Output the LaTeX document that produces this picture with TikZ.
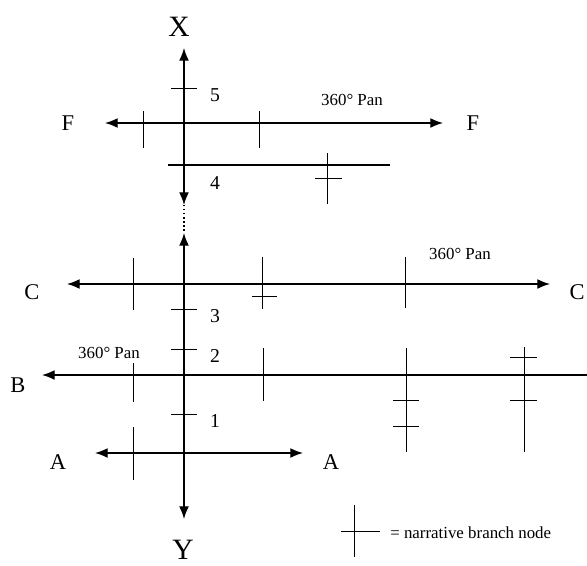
\documentclass[tikz,border=0pt]{standalone}
\usepackage{fontspec}
\setmainfont{Liberation Serif}
\usetikzlibrary{arrows.meta, positioning}

\begin{document}
\begin{tikzpicture}[x=0.025cm, y=-0.025cm, >={Latex[length=9pt,width=7pt]},
    axis/.style={line width=0.9pt},
    panline/.style={line width=0.9pt},
    branch/.style={line width=0.6pt},
    letter/.style={font=\fontsize{16}{18}\selectfont, inner sep=0pt},
    bigletter/.style={font=\fontsize{21}{24}\selectfont, inner sep=0pt},
    level/.style={font=\fontsize{14}{16}\selectfont, inner sep=0pt},
    pantext/.style={font=\fontsize{12}{14}\selectfont, inner sep=0pt}]
    \useasboundingbox (0,0) rectangle (587,566);

    % Trục dọc X--Y
    \node[bigletter] (xlab) at (179,27) {X};
    \node[bigletter] (ylab) at (183,550) {Y};
    \coordinate (xtop) at (184,48);
    \coordinate (xbot) at (184,205);
    \coordinate (ytop) at (184,233);
    \coordinate (ybot) at (184,519);
    \draw[axis, <->] (xtop) -- (xbot);
    \draw[axis, dotted] (xbot) -- (ytop);
    \draw[axis, <->] (ytop) -- (ybot);

    % Các mức trên trục
    \foreach \lv/\ty in {5/88, 3/309, 2/349, 1/414} {
        \draw[branch] (171,\ty) -- (197,\ty);
        \node[level] (lv\lv) at (215,\ty+7) {\lv};
    }
    \coordinate (fourl) at (168,165);
    \coordinate (fourr) at (390,165);
    \draw[panline] (fourl) -- (fourr);
    \node[level] (lv4) at (215,183) {4};

    % Các đường quét ngang
    \coordinate (fl) at (105,123);
    \coordinate (fr) at (443,123);
    \draw[panline, <->] (fl) -- (fr);
    \node[letter] (flab) at (68,123) {F};
    \node[letter] (frlab) at (473,123) {F};
    \node[pantext] (fpan) at (352,100) {360° Pan};

    \coordinate (cl) at (67,284);
    \coordinate (cr) at (550,284);
    \draw[panline, <->] (cl) -- (cr);
    \node[letter] (clab) at (32,292) {C};
    \node[letter] (crlab) at (577,292) {C};
    \node[pantext] (cpan) at (460,254) {360° Pan};

    \coordinate (bl) at (42,375);
    \coordinate (br) at (587,375);
    \draw[panline, <-] (bl) -- (br);
    \node[letter] (blab) at (18,385) {B};
    \node[pantext] (bpan) at (109,353) {360° Pan};

    \coordinate (al) at (95,453);
    \coordinate (ar) at (303,453);
    \draw[panline, <->] (al) -- (ar);
    \node[letter] (alab) at (58,462) {A};
    \node[letter] (arlab) at (331,462) {A};

    % Các nút rẽ nhánh
    \foreach \x/\a/\b in {143/111/148, 259/111/148, 327/153/204,
        133/258/310, 262/257/309, 405/257/308,
        133/363/402, 263/348/401, 406/348/452, 524/347/452,
        133/427/480, 354/505/557} {
        \draw[branch] (\x,\a) -- (\x,\b);
    }
    \foreach \y/\a/\b in {178/315/342, 296/252/277, 400/393/419, 426/393/419,
        357/510/537, 400/510/537, 531/341/380} {
        \draw[branch] (\a,\y) -- (\b,\y);
    }

    % Chú thích
    \node[pantext, anchor=west] (legend) at (390,533) {= narrative branch node};
\end{tikzpicture}
\end{document}
